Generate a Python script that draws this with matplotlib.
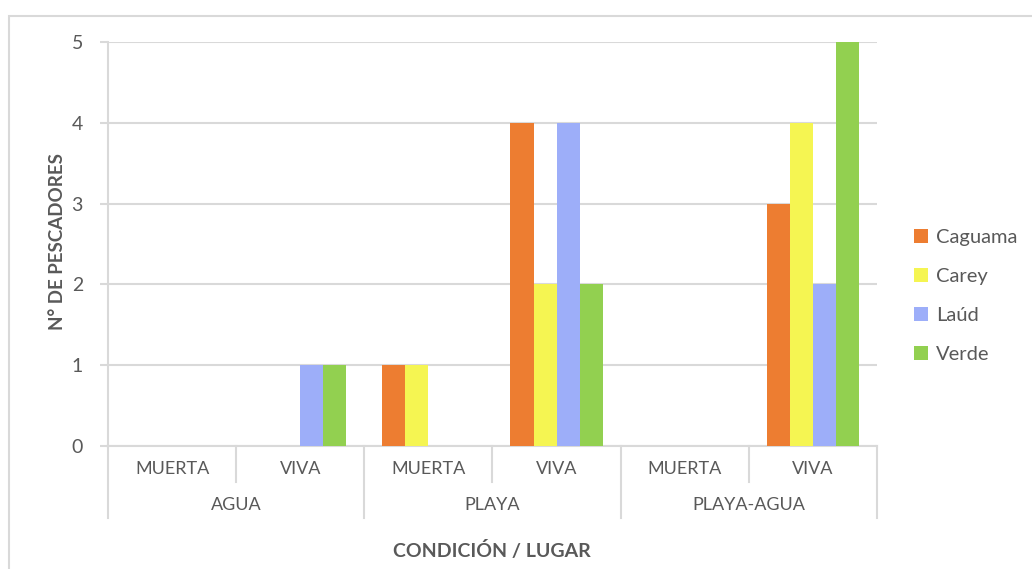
import numpy as np
import matplotlib.pyplot as plt
from matplotlib.patches import Rectangle
from matplotlib.transforms import blended_transform_factory

# data
lugares = ['AGUA', 'PLAYA', 'PLAYA-AGUA']
condiciones = ['MUERTA', 'VIVA']
especies = ['Caguama', 'Carey', 'Laúd', 'Verde']
caguama = [0, 0, 1, 4, 0, 3]
carey = [0, 0, 1, 2, 0, 4]
laud = [0, 1, 0, 4, 0, 2]
verde = [0, 1, 0, 2, 0, 5]
colores = ['#ED7D31', '#F5F552', '#9DAEF9', '#92D050']

plt.rcParams['font.family'] = ['Lato', 'DejaVu Sans']
gris = '#595959'
linea = '#D9D9D9'

W, H = 1032, 569
fig = plt.figure(figsize=(W / 100, H / 100), dpi=100)
fig.patch.set_facecolor('white')

# chart border (cropped on the right and bottom)
fig.patches.append(Rectangle((9 / W, -0.1), 1.2, 1 - 16 / H + 0.1,
                             transform=fig.transFigure, fill=False,
                             edgecolor=linea, linewidth=1.5))

ax = fig.add_axes([108 / W, 1 - 446 / H, (877 - 108) / W, (446 - 42) / H])

x = np.arange(len(lugares) * len(condiciones))
ancho = 0.18
series = [caguama, carey, laud, verde]
for i, (vals, nombre, c) in enumerate(zip(series, especies, colores)):
    ax.bar(x + (i - 1.5) * ancho, vals, ancho, color=c, label=nombre,
           linewidth=0, zorder=3)

ax.set_xlim(-0.5, len(x) - 0.5)
ax.set_ylim(0, 5)
ax.set_yticks(range(6))
ax.grid(axis='y', color=linea, linewidth=1.5, zorder=0)
ax.tick_params(axis='y', length=6, width=1.5, color=linea, labelsize=14,
               labelcolor=gris, pad=12)
ax.tick_params(axis='x', bottom=False, labelbottom=False)
for s in ['top', 'right']:
    ax.spines[s].set_visible(False)
ax.spines['left'].set_color(linea)
ax.spines['left'].set_linewidth(1.5)
ax.spines['bottom'].set_color(linea)
ax.spines['bottom'].set_linewidth(1.5)

# multi-level category axis
tr = blended_transform_factory(ax.transData, ax.transAxes)
for b in np.arange(-0.5, len(x), 1.0):
    k = int(b + 0.5)
    bajo = -0.178 if k % 2 == 0 else -0.089
    ax.plot([b, b], [0, bajo], color=linea, linewidth=1.5, transform=tr,
            clip_on=False)
for j, xi in enumerate(x):
    ax.text(xi, -0.057, condiciones[j % 2], transform=tr, ha='center',
            va='center', fontsize=13, color=gris)
for g, lugar in enumerate(lugares):
    ax.text(2 * g + 0.5, -0.146, lugar, transform=tr, ha='center',
            va='center', fontsize=13, color=gris)

fig.text(492 / W, 1 - 550 / H, 'CONDICIÓN / LUGAR', ha='center',
         va='center', fontsize=14, fontweight='bold', color=gris)
fig.text(58 / W, 1 - 242 / H, 'N° DE PESCADORES', ha='center', va='center',
         rotation=90, fontsize=13.5, fontweight='bold', color=gris)

fig.legend(loc='center left', bbox_to_anchor=(914 / W, 1 - 296 / H),
           frameon=False, fontsize=14.5, labelcolor=gris, handlelength=0.7,
           handleheight=0.7, handletextpad=0.4, labelspacing=1.1,
           borderpad=0, borderaxespad=0)

fig.savefig('out.png', dpi=100)
